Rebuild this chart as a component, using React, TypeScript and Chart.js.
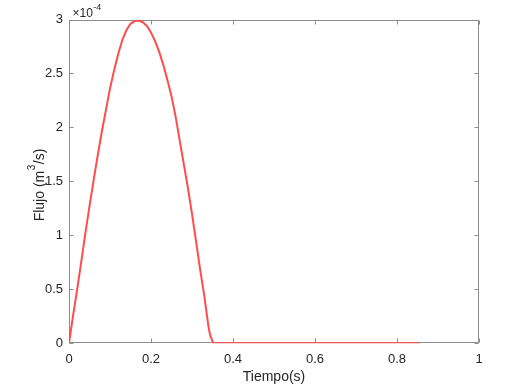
import React, { useEffect, useRef } from "react";
import { Chart, registerables } from "chart.js";

Chart.register(...registerables);

// Time (s)
const timeS = [
  0, 0.01, 0.02, 0.03, 0.04, 0.05, 0.06, 0.07, 0.08, 0.09, 0.1, 0.11, 0.12, 0.13,
  0.14, 0.15, 0.16, 0.17, 0.18, 0.19, 0.2, 0.21, 0.22, 0.23, 0.24, 0.25, 0.26,
  0.27, 0.28, 0.29, 0.3, 0.31, 0.32, 0.33, 0.34, 0.344, 0.352, 0.856,
];
// Flow in units of 1e-4 m^3/s
const flowE4 = [
  0, 0.26, 0.5, 0.76, 1.02, 1.27, 1.51, 1.74, 1.96, 2.16, 2.36, 2.53, 2.68, 2.81,
  2.9, 2.96, 2.985, 2.99, 2.975, 2.94, 2.88, 2.8, 2.7, 2.58, 2.44, 2.29, 2.1,
  1.88, 1.66, 1.44, 1.2, 0.94, 0.68, 0.44, 0.16, 0.077, 0, 0,
];

const xTicks = [0, 0.2, 0.4, 0.6, 0.8, 1];
const yTicks = [0, 0.5, 1, 1.5, 2, 2.5, 3];
const xTitle = "Tiempo(s)";
const yTitleMain = "Flujo (m";
const yTitleSup = "3";
const yTitleEnd = "/s)";
const exponentBase = "×10";
const exponentPower = "-4";

const FONT = "'Liberation Sans', Arial, Helvetica, sans-serif";
const TEXT = "#262626";
const AXIS = "#8c8c8c";
const LINE = "#ff4d4d";

const matlabAxes = {
  id: "matlabAxes",
  beforeDatasetsDraw(chart: any) {
    const { ctx, chartArea } = chart;
    const { left, right, top, bottom } = chartArea;
    const xs = chart.scales.x;
    const ys = chart.scales.y;
    ctx.save();
    ctx.strokeStyle = AXIS;
    ctx.lineWidth = 1;
    const L = Math.round(left) + 0.5;
    const R = Math.round(right) - 0.5;
    const T = Math.round(top) + 0.5;
    const B = Math.round(bottom) - 0.5;
    ctx.strokeRect(L, T, R - L, B - T);
    const tl = 4;
    ctx.beginPath();
    xTicks.forEach((v) => {
      const px = Math.round(xs.getPixelForValue(v)) + 0.5;
      ctx.moveTo(px, B);
      ctx.lineTo(px, B - tl);
      ctx.moveTo(px, T);
      ctx.lineTo(px, T + tl);
    });
    yTicks.forEach((v) => {
      const py = Math.round(ys.getPixelForValue(v)) + 0.5;
      ctx.moveTo(L, py);
      ctx.lineTo(L + tl, py);
      ctx.moveTo(R, py);
      ctx.lineTo(R - tl, py);
    });
    ctx.stroke();
    ctx.restore();
  },
  afterDraw(chart: any) {
    const { ctx, chartArea } = chart;
    ctx.save();
    ctx.fillStyle = TEXT;
    // x title
    ctx.font = `14px ${FONT}`;
    ctx.textAlign = "center";
    ctx.textBaseline = "middle";
    ctx.fillText(xTitle, (chartArea.left + chartArea.right) / 2, 377);

    // y title rotated with superscript
    ctx.save();
    ctx.translate(40, 185);
    ctx.rotate(-Math.PI / 2);
    ctx.textAlign = "left";
    ctx.textBaseline = "middle";
    ctx.font = `14px ${FONT}`;
    const w1 = ctx.measureText(yTitleMain).width;
    const w3 = ctx.measureText(yTitleEnd).width;
    ctx.font = `10px ${FONT}`;
    const w2 = ctx.measureText(yTitleSup).width;
    const total = w1 + w2 + w3 + 1;
    let x = -total / 2;
    ctx.font = `14px ${FONT}`;
    ctx.fillText(yTitleMain, x, 0);
    x += w1 + 0.5;
    ctx.font = `10px ${FONT}`;
    ctx.fillText(yTitleSup, x, -8);
    x += w2 + 0.5;
    ctx.font = `14px ${FONT}`;
    ctx.fillText(yTitleEnd, x, 0);
    ctx.restore();

    // exponent
    ctx.textAlign = "left";
    ctx.textBaseline = "alphabetic";
    ctx.font = `12px ${FONT}`;
    ctx.fillText(exponentBase, 72.5, 16.5);
    const wb = ctx.measureText(exponentBase).width;
    ctx.font = `9px ${FONT}`;
    ctx.fillText(exponentPower, 72.5 + wb + 0.5, 10);
    ctx.restore();
  },
};

export default function App() {
  const ref = useRef<HTMLCanvasElement | null>(null);

  useEffect(() => {
    if (!ref.current) return;
    const chart = new Chart(ref.current, {
      type: "line",
      data: {
        datasets: [
          {
            data: timeS.map((t, i) => ({ x: t, y: flowE4[i] })),
            borderColor: LINE,
            backgroundColor: LINE,
            borderWidth: 2,
            pointRadius: 0,
            tension: 0,
            fill: false,
          },
        ],
      },
      options: {
        animation: false,
        responsive: false,
        devicePixelRatio: 1,
        layout: { padding: { left: 0, top: 19.5, right: 51, bottom: 0 } },
        plugins: {
          legend: { display: false },
          tooltip: { enabled: false },
        },
        scales: {
          x: {
            type: "linear",
            min: 0,
            max: 1,
            afterBuildTicks: (s: any) => {
              s.ticks = xTicks.map((v) => ({ value: v }));
            },
            afterFit: (s: any) => {
              s.height = 43.7;
            },
            grid: { display: false, drawTicks: false },
            border: { display: false },
            ticks: {
              color: TEXT,
              font: { family: FONT, size: 13 },
              padding: 8,
              maxRotation: 0,
              callback: (v: any) => String(+Number(v).toFixed(1)),
            },
          },
          y: {
            type: "linear",
            min: 0,
            max: 3,
            afterBuildTicks: (s: any) => {
              s.ticks = yTicks.map((v) => ({ value: v }));
            },
            afterFit: (s: any) => {
              s.width = 69;
            },
            grid: { display: false, drawTicks: false },
            border: { display: false },
            ticks: {
              color: TEXT,
              font: { family: FONT, size: 13 },
              padding: 6,
              callback: (v: any) => String(+Number(v).toFixed(1)),
            },
          },
        },
      },
      plugins: [matlabAxes],
    });
    return () => chart.destroy();
  }, []);

  return (
    <div style={{ position: "fixed", left: 0, top: 0, width: 530, height: 387, background: "#fff" }}>
      <canvas ref={ref} width={530} height={387} style={{ width: 530, height: 387 }} />
    </div>
  );
}
